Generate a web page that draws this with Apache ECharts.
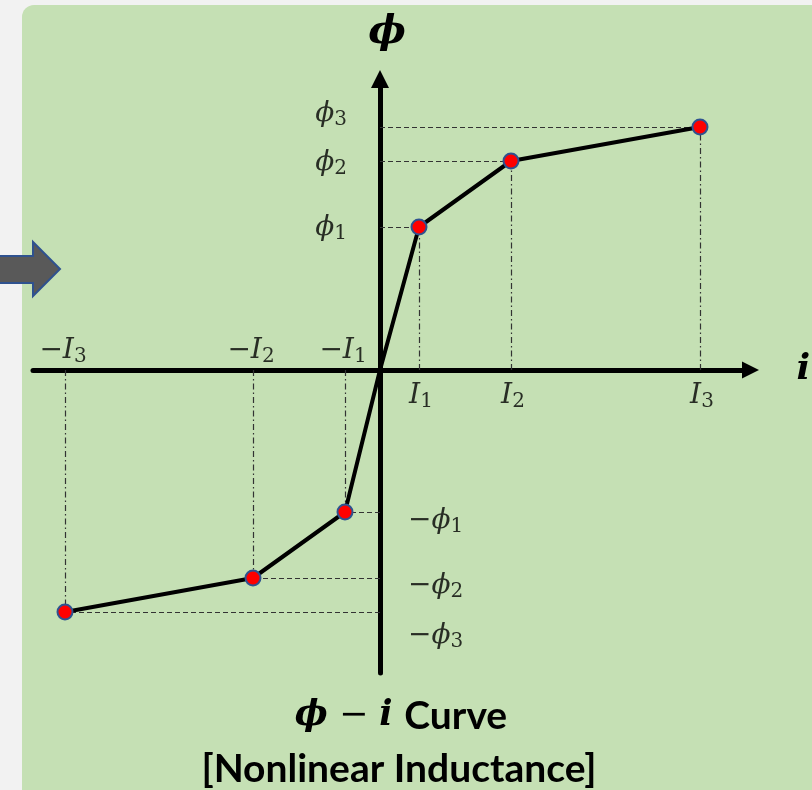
<!DOCTYPE html>
<html>
<head>
<meta charset="utf-8">
<script src="https://cdn.jsdelivr.net/npm/echarts@6/dist/echarts.min.js"></script>
<style>
  html, body { margin: 0; padding: 0; background: #f2f2f2; }
  #chart { width: 812px; height: 790px; }
</style>
</head>
<body>
<div id="chart"></div>
<script>
// Piecewise-linear flux–current characteristic of a nonlinear inductor
const currentValues = [-3.15, -1.27, -0.35, 0, 0.39, 1.31, 3.20];
const fluxValues    = [-2.42, -2.08, -1.42, 0, 1.43, 2.09, 2.43];

// Break-point tick labels ("name_subscript"), one per point (origin unlabeled)
const currentTickLabels = ['−I_3', '−I_2', '−I_1', '', 'I_1', 'I_2', 'I_3'];
const fluxTickLabels    = ['−ϕ_3', '−ϕ_2', '−ϕ_1', '', 'ϕ_1', 'ϕ_2', 'ϕ_3'];

const axisTitles = { x: 'i', y: 'ϕ' };

// ---------------------------------------------------------------------------
const MATH_FONT = '"DejaVu Serif", "Liberation Serif", serif';
const TEXT_FONT = 'Lato, "Open Sans", sans-serif';

const mathRich = {
  m: { fontFamily: MATH_FONT, fontStyle: 'italic', fontSize: 28, lineHeight: 32, color: '#000' },
  s: { fontFamily: MATH_FONT, fontSize: 20, lineHeight: 17, verticalAlign: 'bottom', color: '#000' }
};
function mathText(str) {
  const parts = str.split('_');
  return '{m|' + parts[0] + '}{s|' + parts[1] + '}';
}

// small vertical nudges for the flux labels (px), same order as the data
const fluxLabelNudge = [24, 8, 9, 0, 1, 2, -13];

const curvePoints = currentValues.map((v, k) => [v, fluxValues[k]]);

const curveData = curvePoints.map((p) => ({
  value: p,
  symbolSize: p[0] === 0 && p[1] === 0 ? 0 : 15
}));

// dashed guides: horizontal to the flux axis, dash-dot vertical to the current axis
const guideLines = [];
curvePoints.forEach((p) => {
  if (p[0] === 0 && p[1] === 0) return;
  guideLines.push([
    { coord: [0, p[1]], lineStyle: { type: [5, 3], width: 1.2, color: '#333' } },
    { coord: [p[0], p[1]] }
  ]);
  guideLines.push([
    { coord: [p[0], 0], lineStyle: { type: [6, 3, 1.5, 3], width: 1.2, color: '#333' } },
    { coord: [p[0], p[1]] }
  ]);
});

const currentLabelData = [];
const fluxLabelData = [];
curvePoints.forEach((p, k) => {
  if (!currentTickLabels[k]) return;
  const neg = p[0] < 0;
  currentLabelData.push({
    value: [p[0], 0],
    label: {
      show: true,
      formatter: mathText(currentTickLabels[k]),
      position: neg ? 'top' : 'bottom',
      distance: neg ? 3 : 10,
      offset: neg ? [-2, 0] : [2, 0],
      rich: mathRich
    }
  });
  fluxLabelData.push({
    value: [0, p[1]],
    label: {
      show: true,
      formatter: mathText(fluxTickLabels[k]),
      position: p[1] < 0 ? 'right' : 'left',
      distance: p[1] < 0 ? 28 : 33,
      offset: [0, fluxLabelNudge[k]],
      rich: mathRich
    }
  });
});

const chart = echarts.init(document.getElementById('chart'), null, { renderer: 'canvas' });

chart.setOption({
  backgroundColor: '#f2f2f2',
  animation: false,
  graphic: [
    {
      type: 'rect', z: -10, silent: true,
      shape: { x: 22, y: 5, width: 810, height: 800, r: 12 },
      style: { fill: '#c5e0b4' }
    },
    {
      type: 'polygon', z: -5, silent: true,
      shape: { points: [[-4, 256], [33, 256], [33, 242], [60, 269], [33, 296], [33, 283], [-4, 283]] },
      style: { fill: '#595959', stroke: '#2f528f', lineWidth: 2 }
    },
    {
      type: 'text', z: 10, silent: true,
      x: 401, y: 716,
      style: {
        text: '{p|ϕ}{o| − }{p|i}{g|   }{t|Curve}',
        align: 'center', verticalAlign: 'middle',
        rich: {
          p: { fontFamily: MATH_FONT, fontStyle: 'italic', fontWeight: 'bold', fontSize: 35, fill: '#000' },
          o: { fontFamily: MATH_FONT, fontSize: 35, fill: '#000' },
          g: { fontSize: 14 },
          t: { fontFamily: TEXT_FONT, fontWeight: 'bold', fontSize: 39, fill: '#000' }
        }
      }
    },
    {
      type: 'text', z: 10, silent: true,
      x: 399, y: 769,
      style: {
        text: '[Nonlinear Inductance]',
        align: 'center', verticalAlign: 'middle',
        fontFamily: TEXT_FONT, fontWeight: 'bold', fontSize: 39, fill: '#000'
      }
    }
  ],
  grid: {
    left: 33, right: 61.5, top: 79, bottom: 117,
    outerBoundsMode: 'none', containLabel: false
  },
  xAxis: {
    type: 'value', min: -3.47, max: 3.705,
    name: axisTitles.x, nameLocation: 'end', nameGap: 46,
    nameTextStyle: { fontFamily: MATH_FONT, fontStyle: 'italic', fontWeight: 'bold', fontSize: 36, color: '#000', padding: [0, 0, 8, 0] },
    axisLine: { onZero: true, symbol: ['none', 'triangle'], symbolSize: [17, 17], lineStyle: { color: '#000', width: 5 } },
    axisTick: { show: false }, axisLabel: { show: false }, splitLine: { show: false }
  },
  yAxis: {
    type: 'value', min: -3.03, max: 2.91,
    name: axisTitles.y, nameLocation: 'end', nameGap: 26,
    nameTextStyle: { fontFamily: MATH_FONT, fontStyle: 'italic', fontWeight: 'bold', fontSize: 40, color: '#000', padding: [0, 0, 0, 14] },
    axisLine: { onZero: true, symbol: ['none', 'triangle'], symbolSize: [18, 18], lineStyle: { color: '#000', width: 5 } },
    axisTick: { show: false }, axisLabel: { show: false }, splitLine: { show: false }
  },
  series: [
    {
      name: 'guides', type: 'line', data: [], z: 1, silent: true,
      markLine: { symbol: ['none', 'none'], silent: true, label: { show: false }, data: guideLines, animation: false }
    },
    {
      name: 'flux-current', type: 'line', z: 5,
      data: curveData,
      symbol: 'circle',
      lineStyle: { color: '#000', width: 4 },
      itemStyle: { color: '#ff0000', borderColor: '#2f528f', borderWidth: 2 }
    },
    {
      name: 'current labels', type: 'scatter', symbolSize: 0, z: 6, silent: true,
      data: currentLabelData
    },
    {
      name: 'flux labels', type: 'scatter', symbolSize: 0, z: 6, silent: true,
      data: fluxLabelData
    }
  ]
});
</script>
</body>
</html>
